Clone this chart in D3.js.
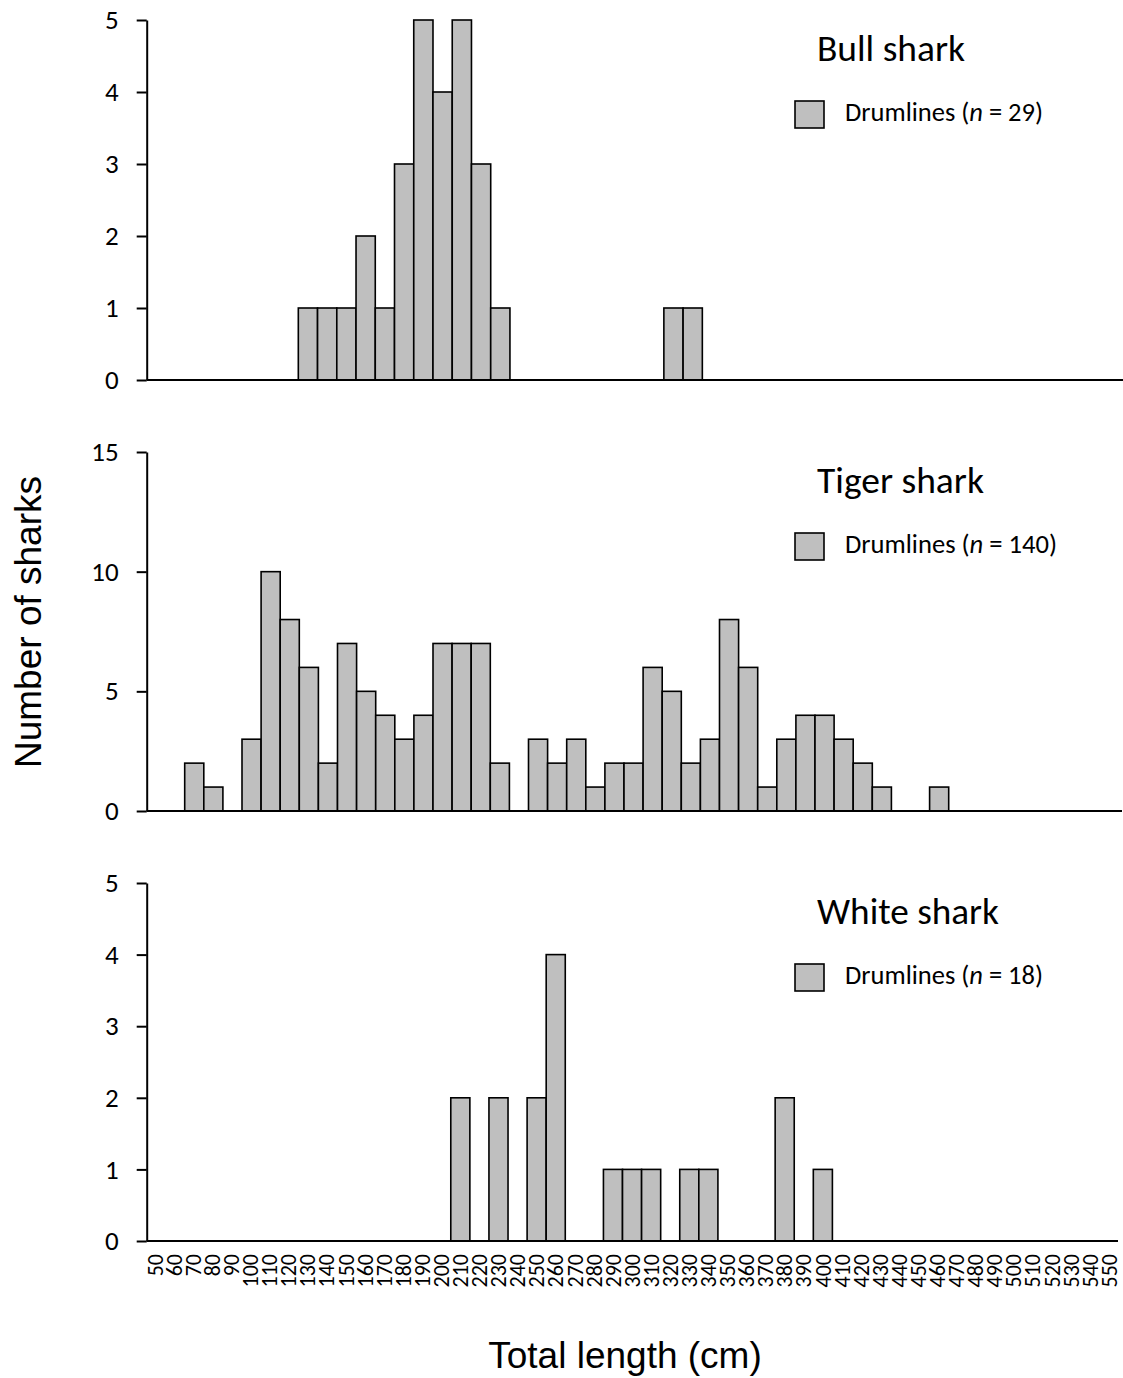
<!DOCTYPE html>
<html>
<head>
<meta charset="utf-8">
<script src="https://cdn.jsdelivr.net/npm/d3@7"></script>
<style>
  body { margin: 0; background: #fff; }
  svg { display: block; }
</style>
</head>
<body>
<div id="chart"></div>
<script>
// length classes (cm)
var lengthBins = ["50","60","70","80","90","100","110","120","130","140",
                  "150","160","170","180","190","200","210","220","230","240",
                  "250","260","270","280","290","300","310","320","330","340",
                  "350","360","370","380","390","400","410","420","430","440",
                  "450","460","470","480","490","500","510","520","530","540","550"];

// [length class, number of sharks] - empty classes left out
var bullShark = [["130",1],["140",1],["150",1],["160",2],["170",1],["180",3],
                 ["190",5],["200",4],["210",5],["220",3],["230",1],
                 ["320",1],["330",1]];

var tigerShark = [["70",2],["80",1],["100",3],["110",10],["120",8],["130",6],
                  ["140",2],["150",7],["160",5],["170",4],["180",3],["190",4],
                  ["200",7],["210",7],["220",7],["230",2],["250",3],["260",2],
                  ["270",3],["280",1],["290",2],["300",2],["310",6],["320",5],
                  ["330",2],["340",3],["350",8],["360",6],["370",1],["380",3],
                  ["390",4],["400",4],["410",3],["420",2],["430",1],["460",1]];

var whiteShark = [["210",2],["230",2],["250",2],["260",4],["290",1],["300",1],
                  ["310",1],["330",1],["340",1],["380",2],["400",1]];

var speciesNames = ["Bull shark", "Tiger shark", "White shark"];
var yTicksBull  = [0, 1, 2, 3, 4, 5];
var yTicksTiger = [0, 5, 10, 15];
var yTicksWhite = [0, 1, 2, 3, 4, 5];

var W = 1123, H = 1378;
var axisX = 146.7;
var calibri = "Calibri, Carlito, Lato, sans-serif";
var arial = "Arial, 'Liberation Sans', sans-serif";

var svg = d3.select("#chart").append("svg")
    .attr("width", W)
    .attr("height", H);

var panels = [
  { name: speciesNames[0], data: bullShark,  ticks: yTicksBull,  top: 20,  bottom: 380,  x0: 144.4, x1: 1125.6, lineEnd: 1123 },
  { name: speciesNames[1], data: tigerShark, ticks: yTicksTiger, top: 452, bottom: 811,  x0: 146.5, x1: 1120.6, lineEnd: 1122 },
  { name: speciesNames[2], data: whiteShark, ticks: yTicksWhite, top: 883, bottom: 1241, x0: 145.5, x1: 1118.6, lineEnd: 1118 }
];

// shrink / grow a text so it covers the width seen in the figure
function fitWidth(sel, target) {
  var w = sel.node().getComputedTextLength();
  var fs = parseFloat(sel.attr("font-size"));
  sel.attr("font-size", (fs * target / w).toFixed(2));
}

panels.forEach(function (p, i) {
  var g = svg.append("g");

  var x = d3.scaleBand()
      .domain(lengthBins)
      .range([p.x0, p.x1])
      .padding(0);

  var y = d3.scaleLinear()
      .domain([0, d3.max(p.ticks)])
      .range([p.bottom, p.top]);

  // bars
  g.selectAll("rect.bar")
      .data(p.data)
      .enter()
      .append("rect")
      .attr("class", "bar")
      .attr("x", function (d) { return x(d[0]); })
      .attr("y", function (d) { return y(d[1]); })
      .attr("width", x.bandwidth())
      .attr("height", function (d) { return y(0) - y(d[1]); })
      .attr("fill", "#bfbfbf")
      .attr("stroke", "#000")
      .attr("stroke-width", 1.6);

  // x baseline
  g.append("line")
      .attr("x1", axisX)
      .attr("x2", p.lineEnd)
      .attr("y1", y(0))
      .attr("y2", y(0))
      .attr("stroke", "#000")
      .attr("stroke-width", 2);

  // y axis
  var yAxis = g.append("g")
      .attr("transform", "translate(" + axisX + ",0)")
      .call(d3.axisLeft(y)
              .tickValues(p.ticks)
              .tickFormat(d3.format("d"))
              .tickSize(10)
              .tickSizeOuter(0)
              .tickPadding(18));

  yAxis.select(".domain").attr("stroke", "#000").attr("stroke-width", 2);
  yAxis.selectAll(".tick line").attr("stroke", "#000").attr("stroke-width", 2);
  yAxis.selectAll(".tick text")
      .attr("font-family", calibri)
      .attr("font-size", 27)
      .attr("fill", "#000");

  // species title
  var title = g.append("text")
      .attr("x", 817)
      .attr("y", p.top + 41)
      .attr("font-family", calibri)
      .attr("font-size", 32)
      .attr("fill", "#000")
      .text(p.name);
  fitWidth(title, [148, 167, 182][i]);

  // legend
  g.append("rect")
      .attr("x", 795)
      .attr("y", p.top + 81)
      .attr("width", 29)
      .attr("height", 27)
      .attr("fill", "#bfbfbf")
      .attr("stroke", "#000")
      .attr("stroke-width", 1.6);

  var n = d3.sum(p.data, function (d) { return d[1]; });
  var leg = g.append("text")
      .attr("x", 845)
      .attr("y", p.top + 101)
      .attr("font-family", calibri)
      .attr("font-size", 22)
      .attr("fill", "#000");
  leg.append("tspan").text("Drumlines (");
  leg.append("tspan").attr("font-style", "italic").text("n");
  leg.append("tspan").text(" = " + n + ")");
  fitWidth(leg, [198, 212, 198][i]);

  // length labels only under the last panel
  if (i === panels.length - 1) {
    var xAxis = g.append("g")
        .attr("transform", "translate(0," + y(0) + ")")
        .call(d3.axisBottom(x).tickSize(0));
    xAxis.select(".domain").remove();
    xAxis.selectAll(".tick text")
        .attr("transform", "rotate(-90)")
        .attr("x", -13)
        .attr("y", 0)
        .attr("dy", "0.35em")
        .style("text-anchor", "end")
        .attr("font-family", calibri)
        .attr("font-size", 22)
        .attr("fill", "#000");
  }
});

// axis titles
svg.append("text")
    .attr("transform", "translate(41,622) rotate(-90)")
    .attr("text-anchor", "middle")
    .attr("font-family", arial)
    .attr("font-size", 37)
    .attr("fill", "#000")
    .text("Number of sharks");

svg.append("text")
    .attr("x", 625)
    .attr("y", 1368)
    .attr("text-anchor", "middle")
    .attr("font-family", arial)
    .attr("font-size", 37)
    .attr("fill", "#000")
    .text("Total length (cm)");
</script>
</body>
</html>
